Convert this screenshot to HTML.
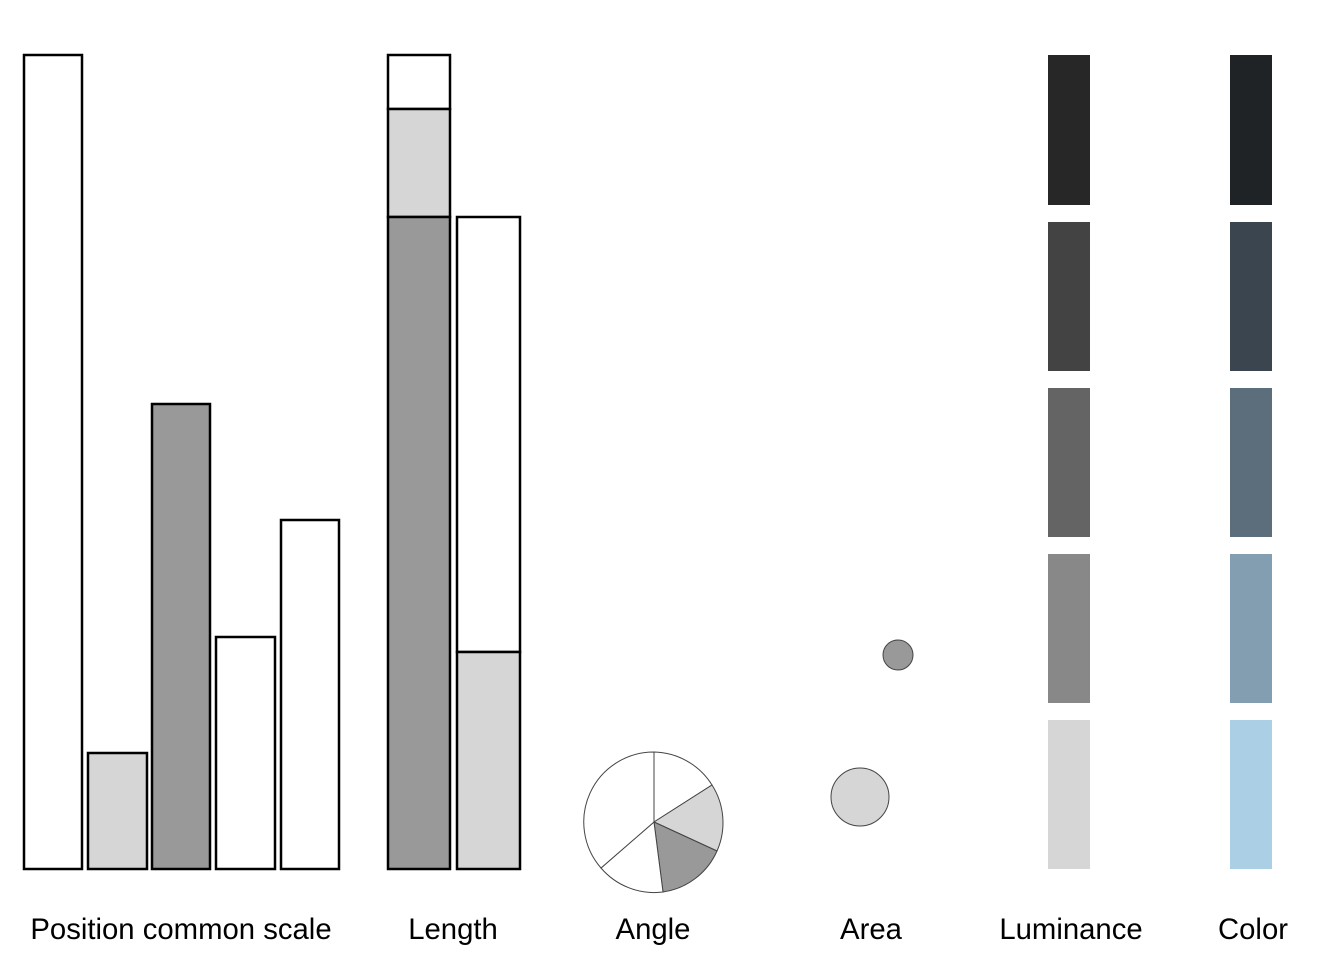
<!DOCTYPE html><html><head><style>body{margin:0;background:#fff}</style></head><body>
<svg width="1344" height="960" xmlns="http://www.w3.org/2000/svg">
<g stroke="#000" stroke-width="2.5">
<rect x="24" y="55" width="58" height="814" fill="#fff"/>
<rect x="88" y="753" width="59" height="116" fill="#d6d6d6"/>
<rect x="152" y="404" width="58" height="465" fill="#999"/>
<rect x="216" y="637" width="59" height="232" fill="#fff"/>
<rect x="281" y="520" width="58" height="349" fill="#fff"/>
<rect x="388" y="55" width="62" height="54" fill="#fff"/>
<rect x="388" y="109" width="62" height="108" fill="#d6d6d6"/>
<rect x="388" y="217" width="62" height="652" fill="#999"/>
<rect x="457" y="217" width="63" height="435" fill="#fff"/>
<rect x="457" y="652" width="63" height="217" fill="#d6d6d6"/>
</g>
<g stroke="#444" stroke-width="1">
<path d="M654,822 L654,752 A70,70 0 0 1 712,785 Z" fill="#fff"/>
<path d="M654,822 L712,785 A70,70 0 0 1 717,851 Z" fill="#d6d6d6"/>
<path d="M654,822 L717,851 A70,70 0 0 1 663,892 Z" fill="#999"/>
<path d="M654,822 L663,892 A70,70 0 0 1 601,868 Z" fill="#fff"/>
<path d="M654,822 L601,868 A70,70 0 0 1 654,752 Z" fill="#fff"/>
<circle cx="898" cy="655" r="15" fill="#999"/>
<circle cx="860" cy="797" r="29" fill="#d6d6d6"/>
</g>
<rect x="1048" y="55" width="42" height="150" fill="#272727"/>
<rect x="1048" y="222" width="42" height="149" fill="#434343"/>
<rect x="1048" y="388" width="42" height="149" fill="#646464"/>
<rect x="1048" y="554" width="42" height="149" fill="#888"/>
<rect x="1048" y="720" width="42" height="149" fill="#d6d6d6"/>
<rect x="1230" y="55" width="42" height="150" fill="#1f2326"/>
<rect x="1230" y="222" width="42" height="149" fill="#3a4550"/>
<rect x="1230" y="388" width="42" height="149" fill="#5c6e7c"/>
<rect x="1230" y="554" width="42" height="149" fill="#839eb1"/>
<rect x="1230" y="720" width="42" height="149" fill="#abcfe5"/>
<g font-family="Liberation Sans, sans-serif" font-size="29.3" text-anchor="middle" fill="#000">
<text x="181" y="939">Position common scale</text>
<text x="453" y="939">Length</text>
<text x="653" y="939">Angle</text>
<text x="871" y="939">Area</text>
<text x="1071" y="939">Luminance</text>
<text x="1253" y="939">Color</text>
</g>
</svg></body></html>
